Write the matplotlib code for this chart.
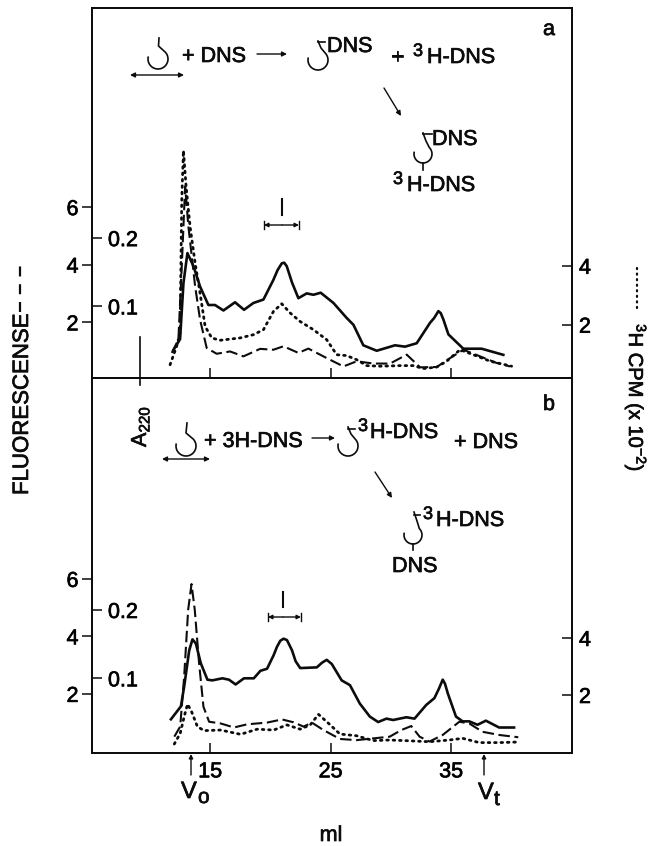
import numpy as np
import matplotlib
matplotlib.use('Agg')
import matplotlib.pyplot as plt
import matplotlib.patheffects as pe
from matplotlib.text import Text

plt.rcParams['font.family'] = ['Liberation Sans', 'DejaVu Sans']
plt.rcParams['mathtext.default'] = 'regular'

# ---------------------------------------------------------
# DATA, x in ml
# ---------------------------------------------------------
a_solid_ml = [11.96, 12.51, 12.79, 13.12, 13.62, 14.17, 14.86, 15.41, 16.11, 17.07, 17.82, 18.6, 19.43, 20.26, 20.6, 20.95, 21.15, 21.36, 21.8, 22.33, 23.02, 23.58, 24.18, 25.24, 26.34, 26.9, 27.72, 28.83, 30.35, 31.18, 32.15, 33.26, 33.6, 33.95, 34.15, 34.36, 34.78, 36.02, 37.54, 39.34]
a_solid_a220 = [.036, .052, .134, .178, .159, .129, .102, .102, .094, .106, .095, .105, .110, .139, .153, .163, .164, .159, .135, .112, .119, .117, .120, .105, .083, .073, .043, .035, .043, .041, .046, .076, .083, .093, .090, .081, .059, .038, .038, .029]

a_dash_ml = [11.82, 12.37, 12.65, 12.93, 13.2, 13.76, 14.17, 14.72, 15.55, 16.66, 17.77, 19.15, 20.26, 21.09, 22.33, 23.16, 24.68, 26.07, 27.17, 28.55, 29.94, 31.32, 32.43, 33.81, 34.92, 36.02, 37.41, 38.79, 39.9]
a_dash_fluor = [.94, 1.40, 3.94, 6.72, 5.33, 3.25, 2.09, 1.11, .91, .99, .82, 1.08, 1.05, 1.17, .94, 1.09, .76, .47, .65, .57, .57, .88, .44, .45, .76, 1.05, .82, .59, .47]

a_dot_ml = [11.68, 12.23, 12.51, 12.65, 12.79, 13.01, 13.34, 13.76, 14.17, 14.59, 15.14, 15.83, 17.49, 18.6, 19.43, 20.26, 20.95, 21.64, 22.47, 23.58, 24.68, 25.51, 26.34, 27.17, 28.0, 29.11, 30.77, 31.87, 32.7, 33.81, 34.64, 35.75, 36.85, 38.24, 40.03]
a_dot_cpm = [.64, 1.27, 1.72, 6.24, 7.91, 6.69, 5.33, 4.09, 3.07, 1.94, 1.55, 1.47, 1.55, 1.66, 1.83, 2.45, 2.71, 2.40, 2.11, 1.83, 1.49, .98, .95, .81, .61, .59, .61, .61, .51, .56, .76, 1.15, .98, .76, .59]

b_solid_ml = [11.75, 12.58, 12.85, 13.27, 13.54, 13.82, 14.23, 14.78, 15.19, 16.02, 16.57, 17.12, 17.81, 18.63, 19.18, 19.73, 20.28, 20.55, 20.83, 21.1, 21.38, 21.8, 22.1, 22.48, 23.86, 24.3, 24.68, 25.1, 25.92, 26.61, 27.43, 28.26, 28.95, 29.64, 30.19, 31.29, 31.97, 32.94, 33.62, 34.0, 34.31, 34.5, 34.73, 35.41, 35.96, 36.51, 37.2, 37.89, 38.99, 40.23]
b_solid_a220 = [.040, .059, .088, .141, .157, .151, .122, .098, .097, .100, .098, .091, .100, .100, .111, .114, .134, .146, .155, .158, .156, .141, .125, .115, .116, .123, .127, .121, .097, .090, .063, .044, .036, .041, .039, .043, .041, .061, .071, .085, .098, .092, .078, .044, .037, .037, .032, .038, .028, .028]

b_dash_ml = [12.03, 12.52, 12.85, 13.18, 13.46, 13.73, 14.09, 14.45, 14.92, 15.88, 16.98, 18.08, 19.73, 20.97, 21.93, 22.76, 23.45, 24.41, 25.78, 27.16, 28.54, 29.91, 30.87, 31.7, 32.39, 33.21, 34.31, 35.69, 36.51, 37.61, 38.99, 40.58]
b_dash_fluor = [.51, .86, 2.60, 4.92, 5.82, 4.92, 3.06, 1.55, 1.03, .97, .83, .94, 1.0, 1.11, 1.01, .86, 1.0, .74, .43, .39, .45, .51, .74, .88, .51, .34, .57, 1.03, .97, .68, .57, .49]

b_dot_ml = [12.03, 12.52, 12.85, 13.13, 13.46, 13.95, 14.5, 15.88, 17.53, 18.91, 20.28, 21.38, 22.48, 23.31, 24.0, 24.82, 25.78, 27.16, 28.54, 29.91, 31.15, 33.21, 34.86, 35.96, 37.34, 38.99, 40.58]
b_dot_cpm = [.28, .65, 1.24, 1.68, 1.42, .89, .75, .77, .62, .80, .77, .95, .80, .95, 1.32, 1.01, .63, .57, .40, .42, .40, .36, .42, .48, .33, .33, .35]

x_ticks = [15, 25, 35]
fluor_ticks = [2, 4, 6]
a220_ticks = [0.1, 0.2]
cpm_ticks = [2, 4]

W, H = 652, 846
LEFT, RIGHT = 92, 572
XLIM = (5.2, 45.04)
INK = '#0c0c0c'
LW_AXIS = 1.1
DOT = (0, (0.6, 1.7))
DASH = (0, (5.5, 2.2))
TICK_LEN = 7.2
FS = 15.5


def make_panel(top, bottom, a_lim, f_lim, c_lim, data, xlabels):
    ax = fig.add_axes([LEFT / W, 1 - bottom / H, (RIGHT - LEFT) / W, (bottom - top) / H])
    ax_f = ax.twinx()
    ax_c = ax.twinx()
    ax.set_xlim(*XLIM)
    ax.set_ylim(*a_lim)
    ax_f.set_ylim(*f_lim)
    ax_c.set_ylim(*c_lim)
    for a in (ax, ax_f, ax_c):
        for s in a.spines.values():
            s.set_linewidth(LW_AXIS)
            s.set_color(INK)
        a.patch.set_visible(False)

    ax.plot(data[0], data[1], color=INK, lw=1.9, solid_joinstyle='round')
    ax_f.plot(data[2], data[3], color=INK, lw=1.5, ls=DASH)
    ax_c.plot(data[4], data[5], color=INK, lw=2.0, ls=DOT, dash_capstyle='round')

    ax.set_xticks(x_ticks)
    ax.set_xticklabels(x_ticks if xlabels else [], fontsize=FS)
    ax.tick_params(axis='x', direction='in', length=TICK_LEN, width=LW_AXIS, pad=6, color=INK)

    # A220 labels sit inside the frame, next to the inward ticks
    ax.set_yticks(a220_ticks)
    ax.set_yticklabels(['0.1', '0.2'], fontsize=FS, ha='left')
    ax.tick_params(axis='y', direction='in', length=TICK_LEN, width=LW_AXIS, pad=-11.5, color=INK)

    ax_f.yaxis.set_ticks_position('left')
    ax_f.yaxis.set_label_position('left')
    ax_f.set_yticks(fluor_ticks)
    ax_f.set_yticklabels(fluor_ticks, fontsize=FS)
    ax_f.tick_params(axis='y', direction='out', length=TICK_LEN, width=LW_AXIS, pad=2.5, color=INK)

    ax_c.set_yticks(cpm_ticks)
    ax_c.set_yticklabels(cpm_ticks, fontsize=FS)
    ax_c.tick_params(axis='y', direction='in', length=TICK_LEN, width=LW_AXIS, pad=5, color=INK)
    return ax


fig = plt.figure(figsize=(W / 100, H / 100), dpi=100)

make_panel(8, 378, (-.0049, .537), (.069, 12.91), (.19, 12.75),
           (a_solid_ml, a_solid_a220, a_dash_ml, a_dash_fluor, a_dot_ml, a_dot_cpm), False)
make_panel(378, 753, (-.0093, .5395), (-.058, 12.99), (-.035, 13.12),
           (b_solid_ml, b_solid_a220, b_dash_ml, b_dash_fluor, b_dot_ml, b_dot_cpm), True)

# overlay in pixel coordinates for the schemes and hand lettering
ov = fig.add_axes([0, 0, 1, 1], zorder=10)
ov.set_xlim(0, W)
ov.set_ylim(H, 0)
ov.axis('off')


def label(x, y, s, size=FS, **kw):
    ov.text(x, y, s, fontsize=size, color=INK, va='baseline', **kw)


def tritium(x3, xh, y):
    # superscript 3 is bigger in the original than mathtext makes it
    label(x3, y - 7, '3', size=13)
    label(xh, y, 'H-DNS')


def hook(cx, cy, r, stem, tick=None, foot=None):
    t = np.radians(np.linspace(-45, 190, 40))
    xs = list(cx + r * np.cos(t))
    ys = list(cy + r * np.sin(t))
    sx = [p[0] for p in stem] + xs
    sy = [p[1] for p in stem] + ys
    ov.plot(sx, sy, color=INK, lw=1.2)
    if tick:
        ov.plot(tick[0], tick[1], color=INK, lw=1.2)
    if foot:
        ov.plot([cx, cx], [cy + r, foot], color=INK, lw=1.2)


def arrow(x0, y0, x1, y1, style='-|>', ms=7):
    ov.annotate('', xy=(x1, y1), xytext=(x0, y0),
                arrowprops=dict(arrowstyle=style, color=INK, lw=1.0, mutation_scale=ms,
                                shrinkA=0, shrinkB=0))


def range_bar(xm, y0, y1, xl, xr, yb):
    ov.plot([xm, xm], [y0, y1], color=INK, lw=1.5)
    ov.plot([xl, xl], [yb - 4, yb + 4], color=INK, lw=1.0)
    ov.plot([xr, xr], [yb - 4, yb + 4], color=INK, lw=1.0)
    arrow(xm, yb, xl, yb, ms=6)
    arrow(xm, yb, xr, yb, ms=6)


# panel a scheme
hook(158, 59, 10, [(159, 38), (158.5, 46)])
arrow(130, 75, 184, 75, style='<|-|>', ms=7)
label(182, 62, '+ DNS')
arrow(257, 54, 287, 54)
hook(318, 60, 10, [(318, 41), (321, 48)], tick=([318, 325], [42, 42]))
label(327, 52, 'DNS')
label(391, 63, '+')
tritium(413, 427, 63)
arrow(384, 88, 401, 116)
hook(423, 154, 9, [(423, 133), (426, 141)], tick=([423, 432], [134, 134]), foot=170)
label(432, 145, 'DNS')
tritium(393, 407, 191)
label(543, 35, 'a')
range_bar(282, 199, 215, 264, 299, 225)

# panel b scheme
hook(186, 446, 10, [(187, 423), (186, 433)])
arrow(162, 459, 210, 459, style='<|-|>', ms=7)
label(204, 447, '+ 3H-DNS')
arrow(312, 438, 335, 438)
hook(348, 446, 10, [(348, 427), (351, 434)], tick=([348, 355], [429, 429]))
tritium(358, 370, 438)
label(454, 448, '+ DNS')
arrow(375, 472, 392, 498)
hook(413, 535, 9, [(414, 512), (417, 521)], tick=([414, 420], [515, 515]), foot=550)
tritium(423, 436, 526)
label(392, 572, 'DNS')
label(543, 410, 'b')
range_bar(283, 592, 607, 268, 301, 617)

# A220 marker and side labels
ov.plot([140, 140], [337, 385], color=INK, lw=1.2)
label(146, 447, 'A$_{220}$', rotation=90, rotation_mode='anchor')
label(28, 495, 'FLUORESCENSE', size=16, rotation=90, rotation_mode='anchor')
ov.plot([20, 20], [312, 262], color=INK, lw=1.6, ls=(0, (4.5, 3.5)))
ov.plot([637, 637], [268, 312], color=INK, lw=1.6, ls=(0, (0.5, 2.0)), dash_capstyle='round')
label(629, 324, '$^{3}$H CPM (x 10$^{-2}$)', size=14.5, rotation=-90, rotation_mode='anchor')

# elution markers
arrow(191, 775, 191, 754, ms=6)
arrow(484, 775, 484, 754, ms=6)
label(181, 798, 'V', size=17)
label(198, 803, 'o', size=15)
label(478, 799, 'V', size=17)
label(494, 805, 't', size=15)
label(331, 841, 'ml', ha='center')

# thicken lettering a little, the scan is heavier than the regular face
for t in fig.findobj(Text):
    t.set_path_effects([pe.withStroke(linewidth=0.5, foreground=INK)])

plt.savefig('out.png', dpi=100)
